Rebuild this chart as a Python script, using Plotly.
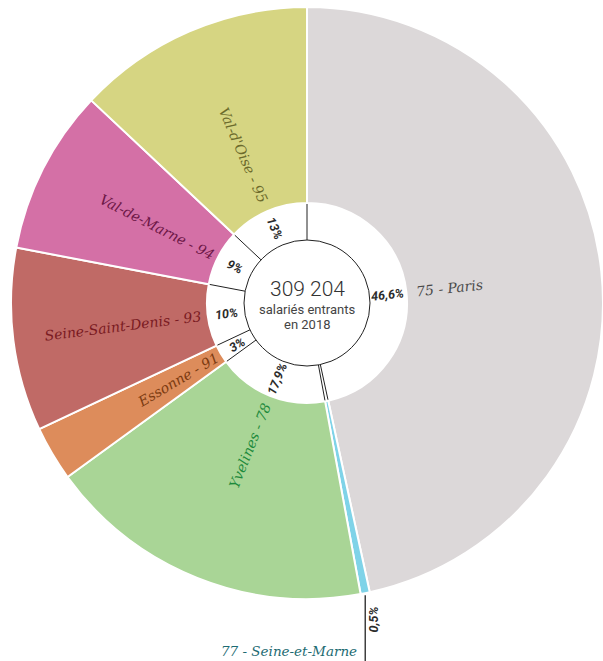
import math
import plotly.graph_objects as go

# Salariés entrants 2018 par département de résidence
labels = ["75 - Paris", "77 - Seine-et-Marne", "Yvelines - 78", "Essonne - 91",
          "Seine-Saint-Denis - 93", "Val-de-Marne - 94", "Val-d'Oise - 95"]
shares = [46.6, 0.5, 17.9, 3, 10, 9, 13]
total_entrants = "309 204"
caption_lines = ["salariés entrants", "en 2018"]

fill_colors = ["#dcd8d9", "#7fd3e8", "#a9d596", "#dd8c5b",
               "#c06a66", "#d470a6", "#d6d582"]
text_colors = ["#4a4a4a", "#1d6b73", "#1e8a3c", "#7b3a10",
               "#7a1a22", "#6d1747", "#6b6a2b"]

W, H = 603, 661
CX, CY = 307, 303          # centre of the ring, pixels from top-left
R = 296                    # outer radius
R_HOLE = 100               # white ring outer radius
R_CORE = 63                # central disc radius
R_PCT = 81                 # radius of percentage labels
R_LABEL0 = 108             # inner end of department labels
LABEL_FS = 14
SERIF = "DejaVu Serif"
SANS = "Roboto"


def paper(x, y):
    return x / W, 1 - y / H


def polar(r, ang):
    a = math.radians(ang)
    return CX + r * math.sin(a), CY - r * math.cos(a)


def radial_angle(mid):
    return mid - 90 if mid < 180 else mid - 270


def fmt_pct(v):
    s = f"{v:g}".replace(".", ",")
    return s + "%"


total = sum(shares)
bounds = [0.0]
for v in shares:
    bounds.append(bounds[-1] + v / total * 360)
mids = [(bounds[i] + bounds[i + 1]) / 2 for i in range(len(shares))]

x0, y1 = paper(CX - R, CY - R)
x1, y0 = paper(CX + R, CY + R)

fig = go.Figure(go.Pie(
    labels=labels,
    values=shares,
    sort=False,
    direction="clockwise",
    rotation=0,
    hole=R_HOLE / R,
    marker=dict(colors=fill_colors, line=dict(color="white", width=2)),
    textinfo="none",
    hoverinfo="label+percent",
    showlegend=False,
    domain=dict(x=[x0, min(x1, 1)], y=[y0, y1]),
))

shapes = []
annotations = []

# central disc
cx0, cy1 = paper(CX - R_CORE, CY - R_CORE)
cx1, cy0 = paper(CX + R_CORE, CY + R_CORE)
shapes.append(dict(type="circle", xref="paper", yref="paper",
                   x0=cx0, y0=cy0, x1=cx1, y1=cy1,
                   line=dict(color="#222", width=1), fillcolor="white"))

# radial dividers across the white ring
for b in bounds[:-1]:
    xa, ya = paper(*polar(R_CORE, b))
    xb, yb = paper(*polar(R_HOLE - 1, b))
    shapes.append(dict(type="line", xref="paper", yref="paper",
                       x0=xa, y0=ya, x1=xb, y1=yb,
                       line=dict(color="#222", width=1)))

pct_font = dict(family=SANS, size=12.5, color="#2b2b2b", weight="bold", style="italic")

for i, (lab, v, mid) in enumerate(zip(labels, shares, mids)):
    if v < 1:
        # thin slice: labelled outside with a leader line
        lx, ly = polar(R, mid)
        px0, py0 = paper(lx, ly + 2)
        px1, py1 = paper(lx, H)
        shapes.append(dict(type="line", xref="paper", yref="paper",
                           x0=px0, y0=py0, x1=px1, y1=py1,
                           line=dict(color="#111", width=1.2)))
        tx, ty = paper(lx + 8, ly + 26)
        annotations.append(dict(x=tx, y=ty, xref="paper", yref="paper",
                                text=fmt_pct(v), showarrow=False, textangle=-90,
                                xanchor="center", yanchor="middle", font=pct_font))
        tx, ty = paper(lx - 6, H - 10)
        annotations.append(dict(x=tx, y=ty, xref="paper", yref="paper",
                                text=lab, showarrow=False,
                                xanchor="right", yanchor="middle",
                                font=dict(family=SERIF, size=13.5,
                                          color=text_colors[i], style="italic")))
        continue

    ang = radial_angle(mid)

    # percentage in the white ring
    tx, ty = paper(*polar(R_PCT, mid))
    annotations.append(dict(x=tx, y=ty, xref="paper", yref="paper",
                            text=fmt_pct(v), showarrow=False, textangle=ang,
                            xanchor="center", yanchor="middle", font=pct_font))

    # department name along the radius
    est_w = len(lab) * 0.505 * LABEL_FS
    tx, ty = paper(*polar(R_LABEL0 + est_w / 2, mid))
    annotations.append(dict(x=tx, y=ty, xref="paper", yref="paper",
                            text=lab, showarrow=False, textangle=ang,
                            xanchor="center", yanchor="middle",
                            font=dict(family=SERIF, size=LABEL_FS,
                                      color=text_colors[i], style="italic")))

# centre text
tx, ty = paper(CX, CY - 14)
annotations.append(dict(x=tx, y=ty, xref="paper", yref="paper", text=total_entrants,
                        showarrow=False, xanchor="center", yanchor="middle",
                        font=dict(family=SANS, size=21, color="#333", weight=300)))
for k, line in enumerate(caption_lines):
    tx, ty = paper(CX, CY + 6 + 15 * k)
    annotations.append(dict(x=tx, y=ty, xref="paper", yref="paper", text=line,
                            showarrow=False, xanchor="center", yanchor="middle",
                            font=dict(family=SANS, size=13, color="#444")))

fig.update_layout(
    width=W, height=H,
    margin=dict(l=0, r=0, t=0, b=0),
    paper_bgcolor="white", plot_bgcolor="white",
    shapes=shapes, annotations=annotations,
)

fig.write_html("out.html")
